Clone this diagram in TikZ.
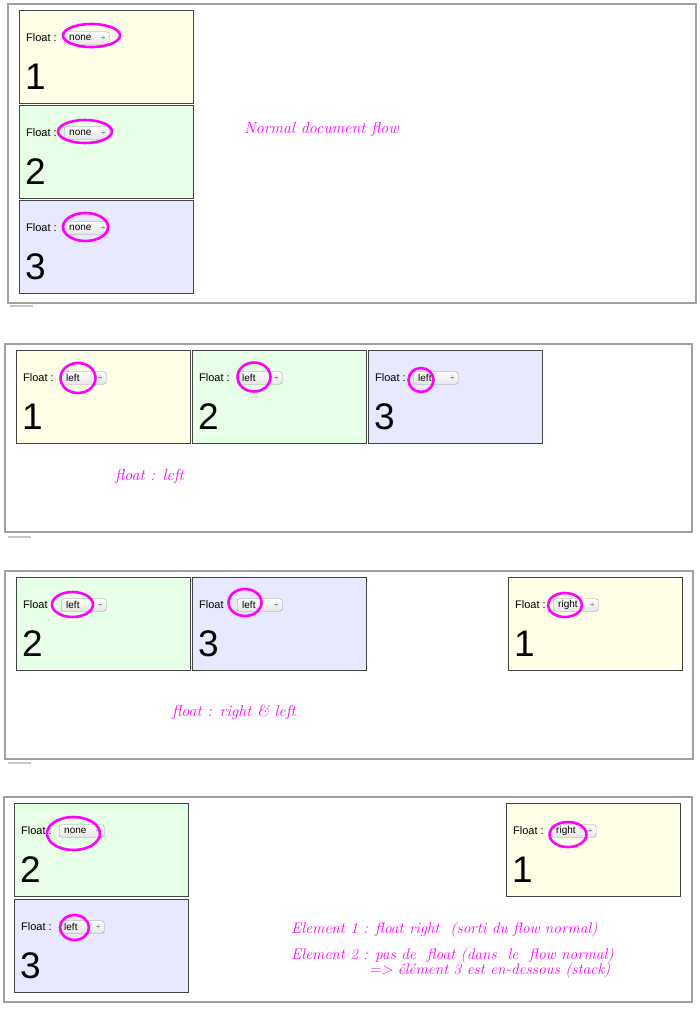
\documentclass[tikz,border=0pt]{standalone}
\usepackage{fontspec}
\setsansfont{Liberation Sans}
\usetikzlibrary{positioning,shapes.geometric}
\definecolor{paleyellow}{HTML}{FFFFE8}
\definecolor{palegreen}{HTML}{E6FFE6}
\definecolor{paleblue}{HTML}{E8E8FF}
\definecolor{framegray}{HTML}{A0A0A0}
\definecolor{tabgray}{HTML}{C8C8C8}
\definecolor{boxgray}{HTML}{444444}
\definecolor{selectgray}{HTML}{999999}
\definecolor{scribblepink}{HTML}{FF00FF}
\tikzset{
    panel/.style={
    draw=framegray,line width=1.3pt
    },
    tabline/.style={
    draw=tabgray,line width=1.6pt
    },
    floatbox/.style={
    rectangle,draw=boxgray,line width=0.9pt,anchor=north west,
    minimum width=174pt,minimum height=93pt,inner sep=0pt
    },
    floatlabel/.style={
    anchor=west,inner sep=0pt,font=\sffamily\fontsize{11}{11}\selectfont
    },
    selectbox/.style={
    rectangle,rounded corners=2.5pt,draw=selectgray,top color=white,bottom color=gray!20,
    anchor=west,minimum width=45pt,minimum height=12.5pt,inner xsep=5pt,inner ysep=0pt,
    text width=35pt,align=left,font=\sffamily\fontsize{10}{10}\selectfont
    },
    selectarrow/.style={
    inner sep=0pt,text=black!70,font=\sffamily\fontsize{8}{8}\selectfont
    },
    bignum/.style={
    anchor=west,inner sep=0pt,font=\sffamily\fontsize{37}{37}\selectfont
    },
    scribble/.style={
    ellipse,draw=scribblepink,line width=2.6pt,inner sep=0pt
    },
    note/.style={
    anchor=west,inner sep=0pt,text=scribblepink,font=\itshape\fontsize{16}{18}\selectfont
    },
    smallnote/.style={
    note,font=\itshape\fontsize{15.4}{18}\selectfont
    },
}
% one floated element: name, x, y, fill, label, value, number
\newcommand{\floatelem}[7]{%
  \node[floatbox,fill=#4] (#1) at (#2,#3) {};
  \node[floatlabel] (#1lab) at ([xshift=7pt,yshift=-28pt]#1.north west) {#5};
  \node[selectbox] (#1sel) at ([xshift=45pt,yshift=-28pt]#1.north west) {#6};
  \node[selectarrow] (#1arr) at ([xshift=-6pt]#1sel.east) {÷};
  \node[bignum] (#1num) at ([xshift=6pt,yshift=-66.5pt]#1.north west) {#7};
}
\begin{document}
\begin{tikzpicture}[x=1pt,y=-1pt]
  \fill[white] (0,0) rectangle (700,1010);
  \useasboundingbox (0,0) rectangle (700,1010);

  % normal flow
  \draw[panel] (8,4) rectangle (696,303);
  \draw[tabline] (10,306) -- (33,306);
  \floatelem{na}{19}{10}{paleyellow}{Float :}{none}{1}
  \floatelem{nb}{19}{105}{palegreen}{Float :}{none}{2}
  \floatelem{nc}{19}{200}{paleblue}{Float :}{none}{3}
  \node[scribble,minimum width=57pt,minimum height=23pt] (nacirc) at (91.5,35.5) {};
  \node[scribble,minimum width=54pt,minimum height=23pt] (nbcirc) at (85,131.5) {};
  \node[scribble,minimum width=45pt,minimum height=28pt] (nccirc) at (85.5,227) {};
  \node[note] (flownote) at (244,129) {Normal document flow};

  % float left
  \draw[panel] (5,344) rectangle (692,532);
  \draw[tabline] (8,537) -- (31,537);
  \floatelem{la}{16}{350}{paleyellow}{Float :}{left}{1}
  \floatelem{lb}{192}{350}{palegreen}{Float :}{left}{2}
  \floatelem{lc}{368}{350}{paleblue}{Float :}{left}{3}
  \node[scribble,minimum width=35pt,minimum height=30pt] (lacirc) at (78,378) {};
  \node[scribble,minimum width=33pt,minimum height=29pt] (lbcirc) at (254,377) {};
  \node[scribble,minimum width=25pt,minimum height=24pt] (lccirc) at (421,380) {};
  \node[note] (leftnote) at (115,476) {float : left};

  % float right & left
  \draw[panel] (5,571) rectangle (693,759);
  \draw[tabline] (8,763) -- (31,763);
  \floatelem{mb}{16}{577}{palegreen}{Float}{left}{2}
  \floatelem{mc}{192}{577}{paleblue}{Float}{left}{3}
  \floatelem{ma}{508}{577}{paleyellow}{Float :}{right}{1}
  \node[scribble,minimum width=41pt,minimum height=25pt] (mbcirc) at (72.5,604.5) {};
  \node[scribble,minimum width=33pt,minimum height=27pt] (mccirc) at (245,602.5) {};
  \node[scribble,minimum width=34pt,minimum height=24pt] (macirc) at (565,605) {};
  \node[note] (mixnote) at (172,712) {float : right \& left};

  % right float + stacked elements
  \draw[panel] (4,797) rectangle (692,1002);
  \floatelem{sb}{14}{803}{palegreen}{Float :}{none}{2}
  \floatelem{sc}{14}{899}{paleblue}{Float :}{left}{3}
  \floatelem{sa}{506}{803}{paleyellow}{Float :}{right}{1}
  \node[scribble,minimum width=53pt,minimum height=33pt] (sbcirc) at (73.5,833.5) {};
  \node[scribble,minimum width=29pt,minimum height=25pt] (sccirc) at (74.5,927.5) {};
  \node[scribble,minimum width=37pt,minimum height=25pt] (sacirc) at (568,834.5) {};
  \node[smallnote] (elemone) at (291,930) {Element 1 : float right\ \ (sorti du flow normal)};
  \node[smallnote] (elemtwo) at ([yshift=-26pt]elemone.west) {Element 2 : pas de\ \ float (dans\ \ le\ \ flow normal)};
  \node[smallnote] (elemthree) at ([xshift=78pt,yshift=-15pt]elemtwo.west) {=> élément 3 est en-dessous (stack)};
\end{tikzpicture}
\end{document}
